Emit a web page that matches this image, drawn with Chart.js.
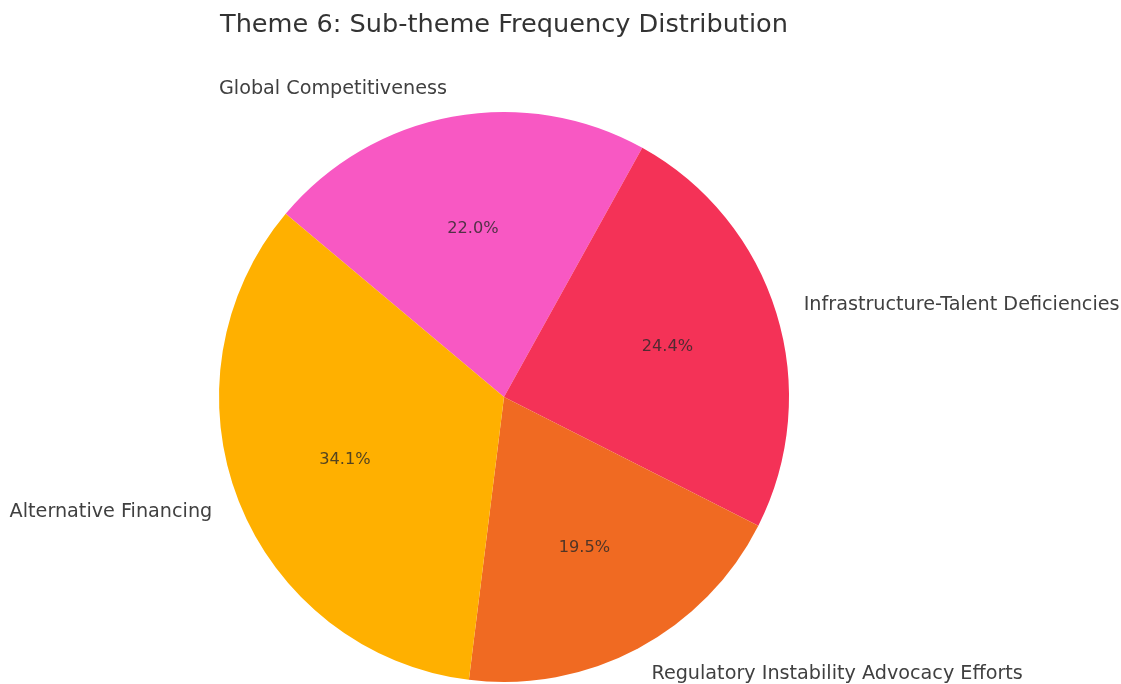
<!DOCTYPE html>
<html>
<head>
<meta charset="utf-8">
<script src="https://cdn.jsdelivr.net/npm/chart.js@4/dist/chart.umd.min.js"></script>
<style>
  body { margin: 0; background: #fff; }
  #wrap { width: 1121px; height: 684px; }
</style>
</head>
<body>
<div id="wrap"><canvas id="pieTheme6" width="1121" height="684"></canvas></div>
<script>
// PIE THEME 6 (slices listed clockwise, starting at the top-left)

var labels = ["Global Competitiveness", "Infrastructure-Talent Deficiencies", "Regulatory Instability Advocacy Efforts", "Alternative Financing"];
var counts = [9, 10, 8, 14];
var sliceColors = ["#f858c3", "#f43257", "#f06a22", "#ffb000"];
var titleText = "Theme 6: Sub-theme Frequency Distribution";

var fontFamily = "'DejaVu Sans', sans-serif";

// labels outside each slice, percentages inside (like matplotlib autopct)
var sliceText = {
  id: "sliceText",
  afterDraw: function (chart) {
    var ctx = chart.ctx;
    var arcs = chart.getDatasetMeta(0).data;
    var total = counts.reduce(function (s, v) { return s + v; }, 0);

    ctx.save();
    ctx.textBaseline = "middle";

    arcs.forEach(function (arc, i) {
      var mid = (arc.startAngle + arc.endAngle) / 2;
      var r = arc.outerRadius;
      var cos = Math.cos(mid), sin = Math.sin(mid);

      // category label at 1.1 r
      ctx.font = "19.2px " + fontFamily;
      ctx.fillStyle = "#404040";
      ctx.textAlign = cos >= 0 ? "left" : "right";
      ctx.fillText(labels[i], arc.x + cos * r * 1.1, arc.y + sin * r * 1.1);

      // percentage at 0.6 r
      ctx.font = "16.2px " + fontFamily;
      ctx.fillStyle = "rgba(40,40,40,0.8)";
      ctx.textAlign = "center";
      var pct = (counts[i] / total * 100).toFixed(1) + "%";
      ctx.fillText(pct, arc.x + cos * r * 0.6, arc.y + sin * r * 0.6);
    });

    // title
    ctx.font = "25.6px " + fontFamily;
    ctx.fillStyle = "#333333";
    ctx.textAlign = "left";
    ctx.fillText(titleText, 220, 25);
    ctx.restore();
  },
};

new Chart("pieTheme6", {
  type: "pie",
  data: {
    labels: labels,
    datasets: [
      {
        backgroundColor: sliceColors,
        borderWidth: 0,
        data: counts,
      },
    ],
  },
  options: {
    responsive: false,
    animation: false,
    rotation: -50,
    layout: { padding: { top: 112, bottom: 2, left: 219, right: 332 } },
    plugins: {
      legend: { display: false },
      tooltip: { enabled: false },
    },
  },
  plugins: [sliceText],
});
</script>
</body>
</html>
